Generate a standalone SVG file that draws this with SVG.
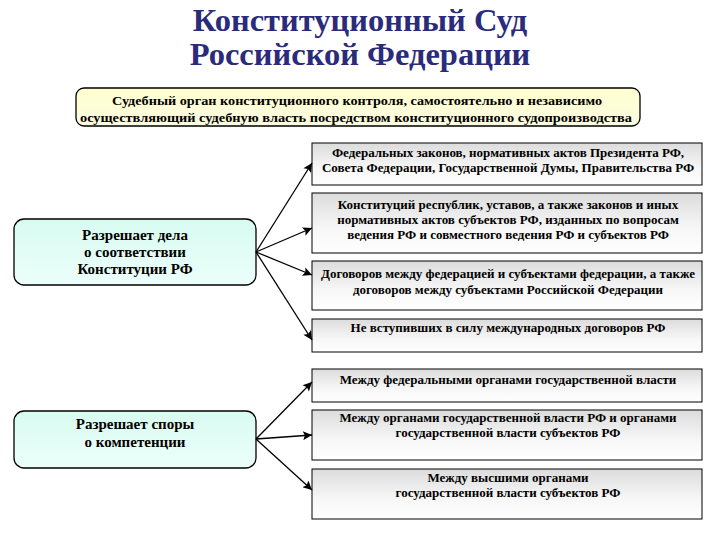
<svg xmlns="http://www.w3.org/2000/svg" width="720" height="540" viewBox="0 0 720 540">
<defs>
<linearGradient id="gGray" x1="0" y1="0" x2="0" y2="1">
<stop offset="0" stop-color="#dcdcdc"/>
<stop offset="0.6" stop-color="#f7f7f7"/>
<stop offset="1" stop-color="#ffffff"/>
</linearGradient>
<linearGradient id="gYellow" x1="0" y1="0" x2="0" y2="1">
<stop offset="0" stop-color="#ffffd0"/>
<stop offset="1" stop-color="#fbfbe0"/>
</linearGradient>
<linearGradient id="gCyan" x1="0" y1="0" x2="0" y2="1">
<stop offset="0" stop-color="#d8fbf0"/>
<stop offset="1" stop-color="#ecfffa"/>
</linearGradient>
<marker id="arr" viewBox="0 0 10 10" refX="10" refY="5" markerWidth="11" markerHeight="9" markerUnits="userSpaceOnUse" orient="auto">
<path d="M0,0 L10,5 L0,10 L2,5 Z" fill="#000"/>
</marker>
<style>
.title{font-family:"Liberation Serif","Times New Roman",serif;font-weight:bold;font-size:32.5px;fill:#2b2b7c;text-anchor:middle}
.t{font-family:"Liberation Serif","Times New Roman",serif;font-weight:bold;font-size:13px;fill:#000;text-anchor:middle}
.tl{font-family:"Liberation Serif","Times New Roman",serif;font-weight:bold;font-size:15px;fill:#000;text-anchor:middle}
.rb{fill:url(#gGray);stroke:#000;stroke-width:1}
.lb{fill:url(#gCyan);stroke:#000;stroke-width:1.3}
.yb{fill:url(#gYellow);stroke:#000;stroke-width:1.3}
.c{stroke:#000;stroke-width:1.3;fill:none;marker-end:url(#arr)}
</style>
</defs>
<rect width="720" height="540" fill="#fff"/>
<g id="title">
<text class="title" x="360" y="31">Конституционный Суд</text>
<text class="title" x="360" y="65">Российской Федерации</text>
</g>
<g id="definition">
<rect class="yb" x="76" y="88" width="564" height="38" rx="8"/>
<text class="t" x="357" y="105" textLength="490" lengthAdjust="spacingAndGlyphs">Судебный орган конституционного контроля, самостоятельно и независимо</text>
<text class="t" x="356" y="122" textLength="552" lengthAdjust="spacingAndGlyphs">осуществляющий судебную власть посредством конституционного судопроизводства</text>
</g>
<g id="leftA">
<rect class="lb" x="14" y="219" width="242" height="66" rx="10"/>
<text class="tl" x="135" y="240">Разрешает дела</text>
<text class="tl" x="135" y="257">о соответствии</text>
<text class="tl" x="135" y="274">Конституции РФ</text>
</g>
<g id="leftB">
<rect class="lb" x="14" y="411" width="242" height="57" rx="10"/>
<text class="tl" x="135" y="429">Разрешает споры</text>
<text class="tl" x="135" y="447">о компетенции</text>
</g>
<g id="r1">
<rect class="rb" x="312" y="143" width="390" height="42"/>
<text class="t" x="508" y="157">Федеральных законов, нормативных актов Президента РФ,</text>
<text class="t" x="508" y="172">Совета Федерации, Государственной Думы, Правительства РФ</text>
</g>
<g id="r2">
<rect class="rb" x="312" y="193" width="390" height="60"/>
<text class="t" x="508" y="209">Конституций республик, уставов, а также законов и иных</text>
<text class="t" x="508" y="224">нормативных актов субъектов РФ, изданных по вопросам</text>
<text class="t" x="508" y="239">ведения РФ и совместного ведения РФ и субъектов РФ</text>
</g>
<g id="r3">
<rect class="rb" x="312" y="261" width="390" height="49"/>
<text class="t" x="508" y="278">Договоров между федерацией и субъектами федерации, а также</text>
<text class="t" x="508" y="294">договоров между субъектами Российской Федерации</text>
</g>
<g id="r4">
<rect class="rb" x="312" y="319" width="390" height="33"/>
<text class="t" x="508" y="332">Не вступивших в силу международных договоров РФ</text>
</g>
<g id="r5">
<rect class="rb" x="312" y="369" width="390" height="33"/>
<text class="t" x="508" y="384">Между федеральными органами государственной власти</text>
</g>
<g id="r6">
<rect class="rb" x="312" y="410" width="390" height="50"/>
<text class="t" x="508" y="422">Между органами государственной власти РФ и органами</text>
<text class="t" x="508" y="437">государственной власти субъектов РФ</text>
</g>
<g id="r7">
<rect class="rb" x="312" y="469" width="390" height="50"/>
<text class="t" x="508" y="482">Между высшими органами</text>
<text class="t" x="508" y="497">государственной власти субъектов РФ</text>
</g>
<g id="connectors">
<line class="c" x1="256" y1="252" x2="312" y2="163"/>
<line class="c" x1="256" y1="252" x2="312" y2="228"/>
<line class="c" x1="256" y1="252" x2="312" y2="275"/>
<line class="c" x1="256" y1="252" x2="312" y2="340"/>
<line class="c" x1="256" y1="439" x2="312" y2="382"/>
<line class="c" x1="256" y1="439" x2="312" y2="435"/>
<line class="c" x1="256" y1="439" x2="312" y2="490"/>
</g>
</svg>
